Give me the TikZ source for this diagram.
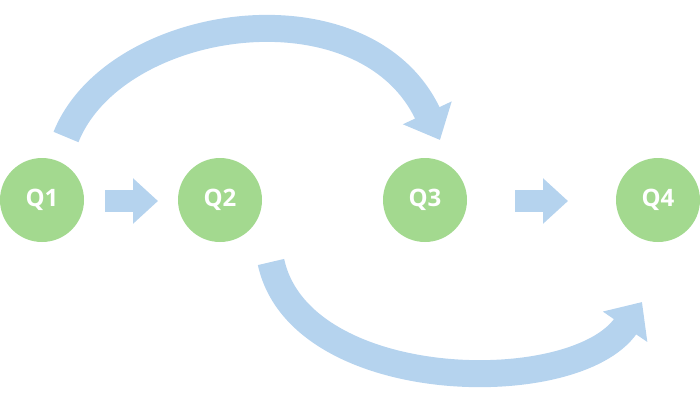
\documentclass[tikz,border=0pt]{standalone}
\usepackage{fontspec}
\setmainfont{Open Sans}
\usetikzlibrary{arrows.meta}
\definecolor{qgreen}{HTML}{A3D98F}
\definecolor{ablue}{HTML}{B5D3EE}
\begin{document}
\begin{tikzpicture}[x=1pt,y=-1pt,
  q/.style={circle,fill=qgreen,minimum size=84pt,inner sep=0pt,text=white,font=\fontsize{24}{28}\selectfont\bfseries},
  bigarrow/.style={draw=ablue,line width=27pt,-{Triangle[length=30pt,width=52pt]}},
  smallarrow/.style={draw=ablue,line width=22pt,-{Triangle[length=25pt,width=44pt]}}]
\useasboundingbox (0,0) rectangle (700,400);
\node[q] (q1) at (42,200) {Q1};
\node[q] (q2) at (220,200) {Q2};
\node[q] (q3) at (425,200) {Q3};
\node[q] (q4) at (658,200) {Q4};
\coordinate (a1) at (105,201);
\coordinate (b1) at (158,201);
\coordinate (a2) at (515,201);
\coordinate (b2) at (568,201);
\draw[smallarrow] (a1) -- (b1);
\draw[smallarrow] (a2) -- (b2);
\coordinate (t1) at (66,137);
\coordinate (t2) at (440,140);
\draw[bigarrow] (t1) .. controls (115,15) and (365,-20) .. (t2);
\coordinate (u1) at (271,262);
\coordinate (u2) at (642,302);
\draw[bigarrow] (u1) .. controls (300,395) and (575,400) .. (u2);
\end{tikzpicture}
\end{document}
